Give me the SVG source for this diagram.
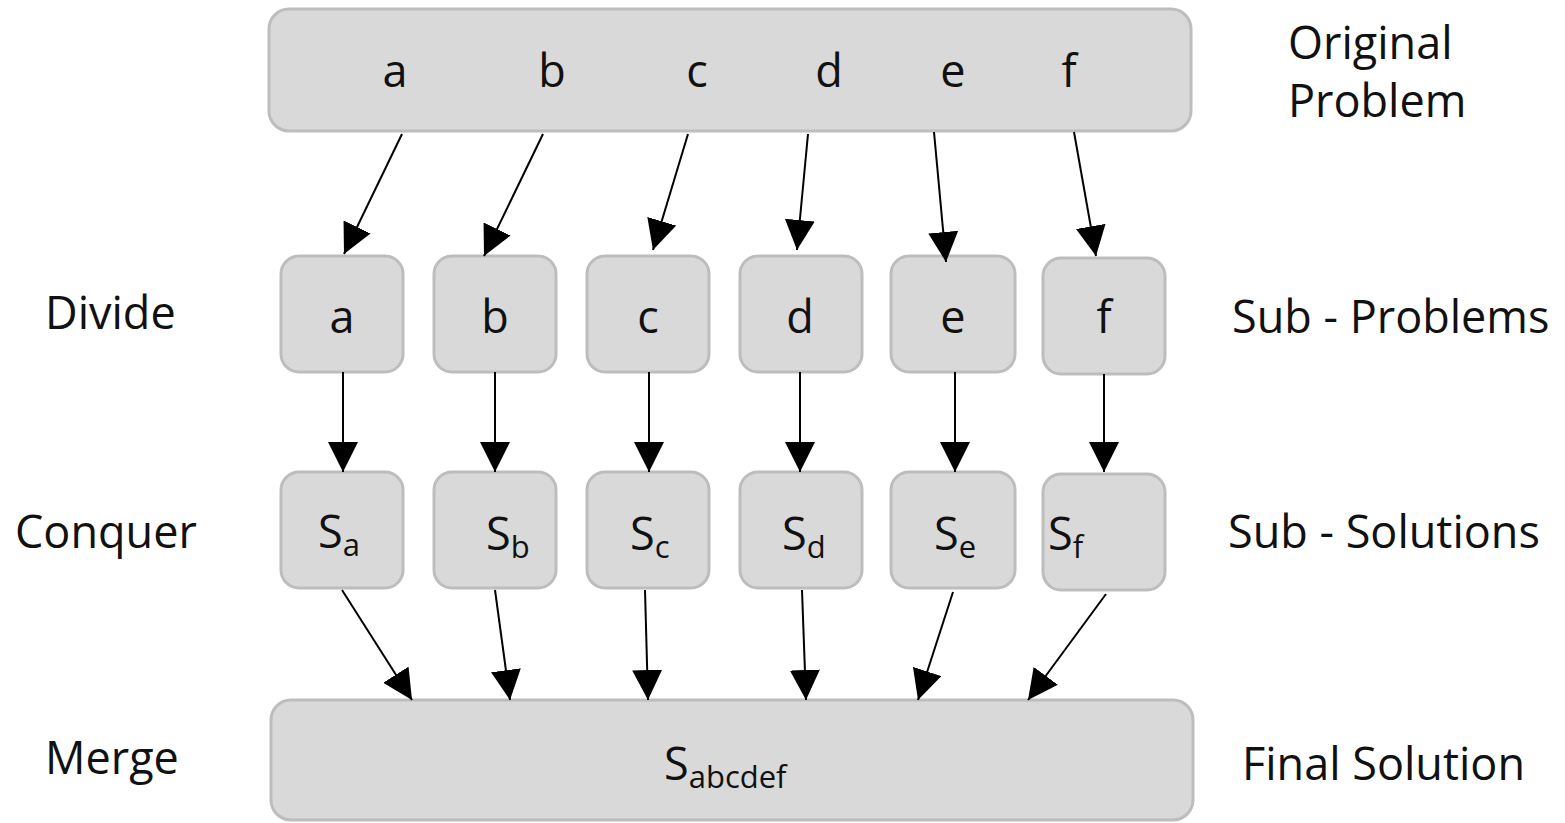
<svg xmlns="http://www.w3.org/2000/svg" width="1565" height="823" viewBox="0 0 1565 823">
<style>
.box{fill:#d9d9d9;stroke:#bdbdbd;stroke-width:3}
.t{font-family:"Open Sans","Noto Sans",sans-serif;font-size:45px;fill:#111}
.c{text-anchor:middle}
.sub{font-size:31px}
.e{stroke:#000;stroke-width:2;fill:none;marker-end:url(#ah)}
</style>
<defs>
<marker id="ah" markerUnits="userSpaceOnUse" markerWidth="30" markerHeight="30" viewBox="0 0 30 30" refX="30" refY="15" orient="auto">
<path d="M0,0 L30,15 L0,30 Z" fill="#000"/>
</marker>
</defs>
<rect width="1565" height="823" fill="#fff"/>
<g id="original">
<rect class="box" x="269" y="9" width="922" height="122" rx="20"/>
<text class="t c" x="395" y="87">a</text>
<text class="t c" x="552" y="87">b</text>
<text class="t c" x="697" y="87">c</text>
<text class="t c" x="829" y="87">d</text>
<text class="t c" x="953" y="87">e</text>
<text class="t c" x="1069" y="87">f</text>
</g>
<g id="pa"><rect class="box" x="281" y="256" width="122" height="116" rx="18"/><text class="t c" x="342" y="333">a</text></g>
<g id="pb"><rect class="box" x="434" y="256" width="122" height="116" rx="18"/><text class="t c" x="495" y="333">b</text></g>
<g id="pc"><rect class="box" x="587" y="256" width="122" height="116" rx="18"/><text class="t c" x="648" y="333">c</text></g>
<g id="pd"><rect class="box" x="740" y="256" width="122" height="116" rx="18"/><text class="t c" x="800" y="333">d</text></g>
<g id="pe"><rect class="box" x="891" y="256" width="124" height="116" rx="18"/><text class="t c" x="953" y="333">e</text></g>
<g id="pf"><rect class="box" x="1043" y="258" width="122" height="116" rx="18"/><text class="t c" x="1104" y="333">f</text></g>
<g id="sa"><rect class="box" x="281" y="472" width="122" height="116" rx="18"/><text class="t" x="318" y="548">S<tspan class="sub" dy="8">a</tspan></text></g>
<g id="sb"><rect class="box" x="434" y="472" width="122" height="116" rx="18"/><text class="t" x="486" y="550">S<tspan class="sub" dy="8">b</tspan></text></g>
<g id="sc"><rect class="box" x="587" y="472" width="122" height="116" rx="18"/><text class="t" x="630" y="550">S<tspan class="sub" dy="8">c</tspan></text></g>
<g id="sd"><rect class="box" x="740" y="472" width="122" height="116" rx="18"/><text class="t" x="782" y="550">S<tspan class="sub" dy="8">d</tspan></text></g>
<g id="se"><rect class="box" x="891" y="472" width="124" height="116" rx="18"/><text class="t" x="934" y="550">S<tspan class="sub" dy="8">e</tspan></text></g>
<g id="sf"><rect class="box" x="1043" y="474" width="122" height="116" rx="18"/><text class="t" x="1048" y="550">S<tspan class="sub" dy="8">f</tspan></text></g>
<g id="merge">
<rect class="box" x="271" y="700" width="922" height="120" rx="20"/>
<text class="t" x="664" y="780">S<tspan class="sub" dy="8">abcdef</tspan></text>
</g>
<g id="labels">
<text class="t" x="1288" y="59">Original</text>
<text class="t" x="1288" y="117">Problem</text>
<text class="t" x="45" y="329">Divide</text>
<text class="t" x="1232" y="333">Sub - Problems</text>
<text class="t" x="15" y="548">Conquer</text>
<text class="t" x="1228" y="548">Sub - Solutions</text>
<text class="t" x="45" y="774">Merge</text>
<text class="t" x="1242" y="780">Final Solution</text>
</g>
<g id="connectors">
<line class="e" x1="402" y1="134" x2="344" y2="254"/>
<line class="e" x1="543" y1="134" x2="484" y2="256"/>
<line class="e" x1="688" y1="134" x2="653" y2="250"/>
<line class="e" x1="808" y1="134" x2="797" y2="250"/>
<line class="e" x1="934" y1="132" x2="946" y2="262"/>
<line class="e" x1="1074" y1="132" x2="1096" y2="256"/>
<line class="e" x1="343" y1="372" x2="343" y2="472"/>
<line class="e" x1="495" y1="372" x2="495" y2="472"/>
<line class="e" x1="649" y1="372" x2="649" y2="472"/>
<line class="e" x1="800" y1="372" x2="800" y2="472"/>
<line class="e" x1="955" y1="372" x2="955" y2="472"/>
<line class="e" x1="1104" y1="374" x2="1104" y2="472"/>
<line class="e" x1="342" y1="590" x2="412" y2="700"/>
<line class="e" x1="495" y1="590" x2="510" y2="700"/>
<line class="e" x1="645" y1="590" x2="648" y2="700"/>
<line class="e" x1="802" y1="590" x2="806" y2="700"/>
<line class="e" x1="953" y1="592" x2="918" y2="700"/>
<line class="e" x1="1106" y1="594" x2="1028" y2="700"/>
</g>
</svg>
